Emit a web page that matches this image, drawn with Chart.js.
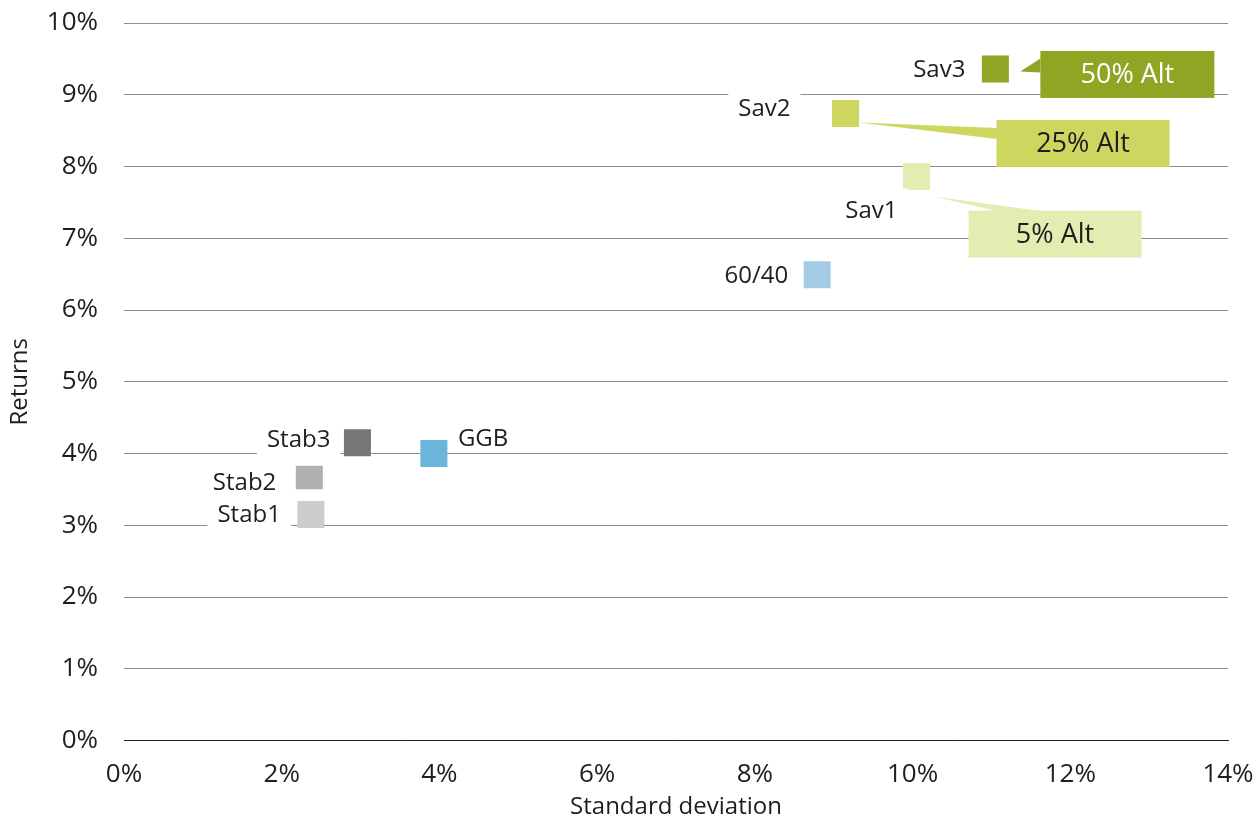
<!DOCTYPE html>
<html><head><meta charset="utf-8">
<script src="https://cdn.jsdelivr.net/npm/chart.js@4/dist/chart.umd.min.js"></script>
<style>html,body{margin:0;padding:0;background:#fff}#wrap{width:1257px;height:823px;position:relative}</style>
</head><body><div id="wrap"><canvas id="c"></canvas></div>
<script>
// ---- data ----
const portfolios = ['Stab1', 'Stab2', 'Stab3', 'GGB', '60/40', 'Sav1', 'Sav2', 'Sav3'];
const stdDev     = [2.37, 2.35, 2.96, 3.93, 8.79, 10.05, 9.15, 11.05];
const returns    = [3.15, 3.69, 4.15, 4.00, 6.49, 7.86, 8.74, 9.36];
const calloutTexts = ['', '', '', '', '', '5% Alt', '25% Alt', '50% Alt'];
const xTickValues = [0, 2, 4, 6, 8, 10, 12, 14];
const yTickValues = [0, 1, 2, 3, 4, 5, 6, 7, 8, 9, 10];

// ---- styles ----
const pointColors = ['#cccccc', '#b0b0b0', '#767676', '#6bb4dc', '#a3cbe3', '#e5ecb1', '#cdd65e', '#8fa624'];
const FONT = '"Open Sans", "DejaVu Sans", sans-serif';
const FSIZE = 24;
const TICKSIZE = 26;
const CALLSIZE = 27;
const TEXT = '#1e1e1e';
const labelStyle = [
  {align: 'right', dx: -30, dy: 0,  box: true},
  {align: 'right', dx: -33, dy: 6,  box: true},
  {align: 'right', dx: -27, dy: -4, box: true},
  {align: 'left',  dx: 24,  dy: -15, box: false},
  {align: 'right', dx: -29, dy: 0,  box: true},
  {align: 'right', dx: -19, dy: 34, box: true},
  {align: 'right', dx: -55, dy: -5, box: true},
  {align: 'right', dx: -30, dy: 0,  box: false}
];
const calloutStyle = [
  null, null, null, null, null,
  {bx: 52, by: 34, w: 173, h: 47, ptr: [[17, 20], [80, 34.5], [124, 34.5]], text: '#1e1e1e'},
  {bx: 151, by: 6.5, w: 173, h: 47, ptr: [[13.5, 9], [151.5, 14.5], [151.5, 25.5]], text: '#1e1e1e'},
  {bx: 45, by: -18, w: 174, h: 47, ptr: [[25, 2.5], [45, -10.5], [45, 3.5]], text: '#ffffff'}
];

const labelPlugin = {
  id: 'labels',
  afterDatasetsDraw(chart) {
    const ctx = chart.ctx;
    const meta = chart.getDatasetMeta(0);
    ctx.save();
    ctx.font = FSIZE + 'px ' + FONT;
    ctx.textBaseline = 'middle';
    meta.data.forEach((el, i) => {
      const s = labelStyle[i];
      if (!s.box) return;
      const w = ctx.measureText(portfolios[i]).width;
      const tx = el.x + s.dx, ty = el.y + s.dy;
      const left = s.align === 'right' ? tx - w : tx;
      ctx.fillStyle = '#ffffff';
      ctx.fillRect(left - 10, ty - 22, w + 20, 49);
    });
    meta.data.forEach((el, i) => {
      const s = labelStyle[i];
      ctx.fillStyle = TEXT;
      ctx.textAlign = s.align;
      ctx.fillText(portfolios[i], el.x + s.dx, el.y + s.dy + 1);
    });
    ctx.font = CALLSIZE + 'px ' + FONT;
    meta.data.forEach((el, i) => {
      const c = calloutStyle[i];
      if (!c || !calloutTexts[i]) return;
      ctx.fillStyle = pointColors[i];
      ctx.beginPath();
      c.ptr.forEach((p, k) => { if (k === 0) ctx.moveTo(el.x + p[0], el.y + p[1]); else ctx.lineTo(el.x + p[0], el.y + p[1]); });
      ctx.closePath();
      ctx.fill();
      ctx.fillRect(el.x + c.bx, el.y + c.by, c.w, c.h);
      ctx.fillStyle = c.text;
      ctx.textAlign = 'center';
      ctx.fillText(calloutTexts[i], el.x + c.bx + c.w / 2, el.y + c.by + c.h / 2 + 1);
    });
    ctx.restore();
  }
};

function noPad(s) { s.paddingTop = 0; s.paddingBottom = 0; s.paddingLeft = 0; s.paddingRight = 0; }

new Chart(document.getElementById('c'), {
  type: 'scatter',
  data: {
    datasets: [{
      data: portfolios.map((p, i) => ({x: stdDev[i], y: returns[i]})),
      backgroundColor: pointColors,
      borderWidth: 0,
      pointStyle: 'rect',
      pointRadius: 19.1,
      pointHoverRadius: 19.1
    }]
  },
  options: {
    responsive: true,
    maintainAspectRatio: false,
    devicePixelRatio: 1,
    animation: false,
    events: [],
    layout: {padding: {top: 23, right: 29, left: 0, bottom: 0}},
    plugins: {legend: {display: false}, tooltip: {enabled: false}},
    scales: {
      x: {
        type: 'linear', min: 0, max: 14,
        afterBuildTicks: s => { s.ticks = xTickValues.map(v => ({value: v})); },
        afterFit: s => { s.height = 82.5; noPad(s); },
        grid: {display: false, drawTicks: false},
        border: {display: true, color: '#222222', width: 1},
        ticks: {padding: 18, color: TEXT, font: {family: FONT, size: TICKSIZE}, callback: v => v + '%'},
        title: {display: true, text: 'Standard deviation', color: TEXT, font: {family: FONT, size: FSIZE}, padding: {top: 1, bottom: 1}}
      },
      y: {
        type: 'linear', min: 0, max: 10,
        afterBuildTicks: s => { s.ticks = yTickValues.map(v => ({value: v})); },
        afterFit: s => { s.width = 124; noPad(s); },
        grid: {color: '#8c8c8c', lineWidth: 1, drawTicks: false},
        border: {display: false},
        ticks: {padding: 26, color: TEXT, font: {family: FONT, size: TICKSIZE}, callback: v => v + '%'},
        title: {display: true, text: 'Returns', color: TEXT, font: {family: FONT, size: FSIZE}, padding: {top: 6, bottom: 0}}
      }
    }
  },
  plugins: [labelPlugin]
});
</script>
</body></html>
